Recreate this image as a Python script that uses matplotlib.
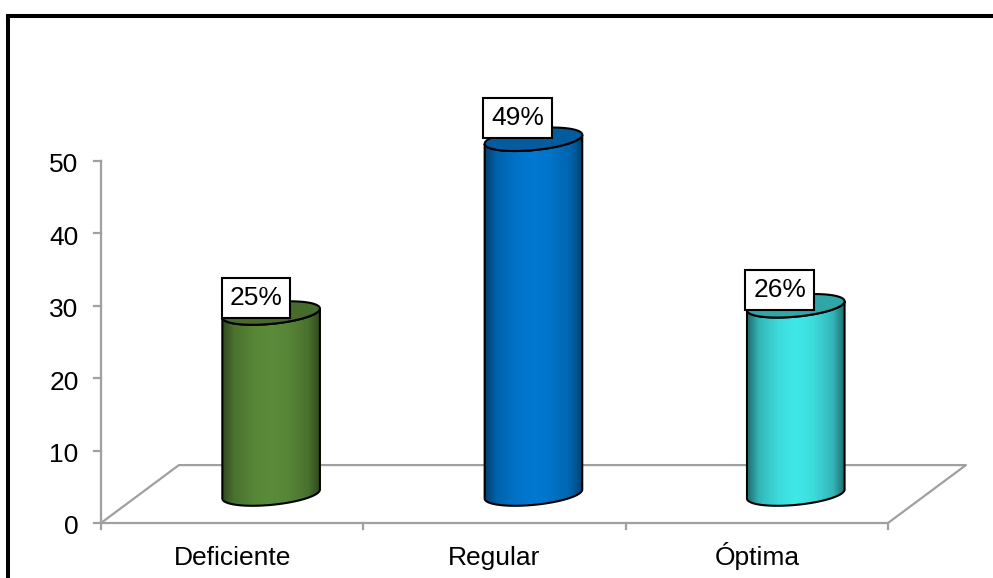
import numpy as np
import matplotlib.pyplot as plt
from matplotlib.colors import LinearSegmentedColormap, to_rgb
from matplotlib.lines import Line2D
from matplotlib.patches import Polygon

categories = ['Deficiente', 'Regular', 'Óptima']
values = [25, 49, 26]
labels = ['25%', '49%', '26%']
label_offsets = [(-15, 15), (-16, 21), (-16, 16)]
y_ticks = [0, 10, 20, 30, 40, 50]

# edge, middle and top-cap colour of each cylinder
edge_colors = ['#30491d', '#02406f', '#1f6a6c']
mid_colors = ['#5b8c3a', '#0079d2', '#40e8e8']
cap_colors = ['#466b2c', '#045c9e', '#30a6a8']

AXIS_GRAY = '#a0a0a0'
W, H = 993, 578
FLOOR_DX, FLOOR_DY = 0.297, 8.0  # depth of the floor in data units
RADIUS = 0.186
CAP_B, CAP_SLANT = 1.5, 0.62  # cap ellipse, y units


def mix(a, b, f):
    a, b = np.array(to_rgb(a)), np.array(to_rgb(b))
    return tuple(a + (b - a) * f)


plt.rcParams['font.family'] = ['Liberation Sans', 'DejaVu Sans']

fig = plt.figure(figsize=(W / 100, H / 100), dpi=100, facecolor='white')
# axes run above the 50 tick so the tallest cylinder is not cut off
ax = fig.add_axes([101 / W, (H - 523) / H, 787 / W, 434.4 / H])
ax.set_xlim(-0.5, 2.5)
ax.set_ylim(0, 60)
ax.axis('off')

# outer frame, drawn in figure pixels
frame = dict(color='black', lw=2.9, transform=fig.transFigure, solid_capstyle='projecting')
fig.add_artist(Line2D([8 / W, 8 / W], [0, 1 - 15.7 / H], **frame))
fig.add_artist(Line2D([8 / W, 1], [1 - 15.7 / H, 1 - 15.7 / H], **frame))

# floor and value axis
axis_style = dict(color=AXIS_GRAY, lw=1.6, clip_on=False, zorder=1)
ax.plot([-0.5, -0.5], [0, 50], **axis_style)
ax.plot([-0.5, 2.5, 2.5 + FLOOR_DX, -0.5 + FLOOR_DX, -0.5],
        [0, 0, FLOOR_DY, FLOOR_DY, 0], **axis_style)

tick_w = 0.027
tick_h = 0.85
for t in y_ticks:
    ax.plot([-0.5 - tick_w, -0.5], [t, t], **axis_style)
    ax.text(-0.5 - 0.085, t - 0.25, str(t), ha='right', va='center_baseline', fontsize=19, color='black')
for x in np.arange(-0.5, 3):
    ax.plot([x, x], [0, -tick_h], **axis_style)
for i, name in enumerate(categories):
    ax.text(i, -5.8, name, ha='center', va='baseline', fontsize=19, color='black', clip_on=False)

t = np.linspace(0, 2 * np.pi, 200)
base = FLOOR_DY / 2
for i, v in enumerate(values):
    cx = i + FLOOR_DX / 2
    top = base + v

    # cylinder outline: bottom half of base ellipse then back along the top
    xs = cx + RADIUS * np.cos(t)
    dy_ell = CAP_B * np.sin(t) + CAP_SLANT * np.cos(t)
    s = np.linspace(np.pi, 2 * np.pi, 100)
    low_x = cx + RADIUS * np.cos(s)
    low_y = base + CAP_B * np.sin(s) + CAP_SLANT * np.cos(s)
    up_x = low_x[::-1]
    up_y = top + CAP_B * np.sin(s[::-1]) + CAP_SLANT * np.cos(s[::-1])
    body = np.column_stack([np.r_[low_x, up_x], np.r_[low_y, up_y]])

    # shading stays light across most of the width and darkens near the rim
    e, m = edge_colors[i], mid_colors[i]
    cmap = LinearSegmentedColormap.from_list('cyl', [
        (0, e), (0.12, mix(e, m, 0.6)), (0.32, mix(e, m, 0.9)), (0.5, m),
        (0.68, mix(e, m, 0.9)), (0.88, mix(e, m, 0.6)), (1, e)])
    grad = np.array(cmap(np.linspace(0, 1, 256))[None, :, :])
    im = ax.imshow(grad, extent=[cx - RADIUS, cx + RADIUS, base - 3, top + 3],
                   aspect='auto', zorder=2, interpolation='bilinear')
    outline = Polygon(body, closed=True, fc='none', ec='black', lw=1.5, zorder=3)
    ax.add_patch(outline)
    im.set_clip_path(outline)

    cap = Polygon(np.column_stack([xs, top + dy_ell]), closed=True,
                  fc=cap_colors[i], ec='black', lw=1.5, zorder=3)
    ax.add_patch(cap)

    ax.annotate(labels[i], (cx, top), xytext=label_offsets[i], textcoords='offset pixels',
                ha='center', va='center', fontsize=19, color='black', zorder=5,
                annotation_clip=False,
                bbox=dict(boxstyle='square,pad=0.3', fc='white', ec='black', lw=1.5))

ax.set_xlim(-0.5, 2.5)
ax.set_ylim(0, 60)

fig.savefig('out.png', dpi=100)
